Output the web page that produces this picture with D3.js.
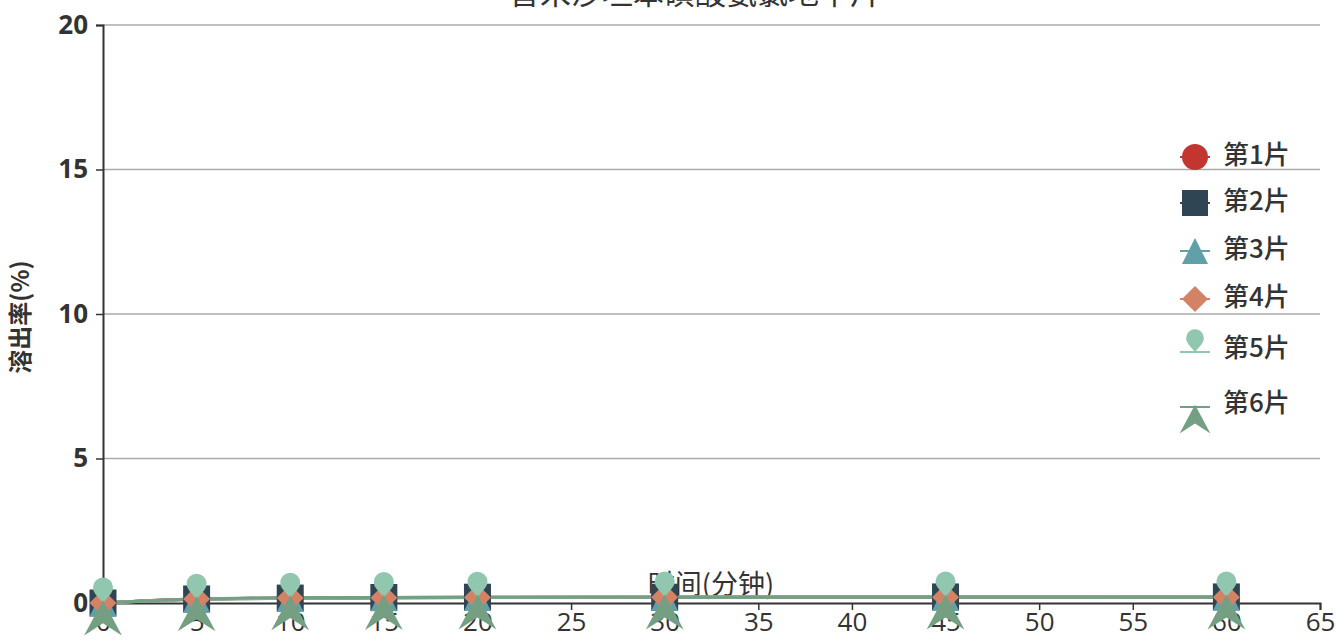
<!DOCTYPE html>
<html>
<head>
<meta charset="utf-8">
<script src="https://cdn.jsdelivr.net/npm/d3@7"></script>
<style>
  body { margin: 0; background: #fff; }
  svg { display: block; font-family: "Noto Sans CJK SC", "Noto Sans", sans-serif; }
</style>
</head>
<body>
<svg width="1336" height="642"></svg>
<script>
const svg = d3.select("svg");

// 資料
const times = [0, 5, 10, 15, 20, 30, 45, 60];
const seriesNames = ["第1片", "第2片", "第3片", "第4片", "第5片", "第6片"];
const s1 = [0, 0.13, 0.17, 0.18, 0.19, 0.2, 0.2, 0.2];
const s2 = [0, 0.14, 0.17, 0.19, 0.2, 0.2, 0.21, 0.21];
const s3 = [0, 0.13, 0.16, 0.18, 0.19, 0.2, 0.2, 0.21];
const s4 = [0, 0.14, 0.17, 0.18, 0.19, 0.2, 0.2, 0.2];
const s5 = [0, 0.13, 0.17, 0.19, 0.2, 0.21, 0.21, 0.21];
const s6 = [0, 0.14, 0.18, 0.19, 0.2, 0.2, 0.2, 0.2];
const xTicks = [0, 5, 10, 15, 20, 25, 30, 35, 40, 45, 50, 55, 60, 65];
const yTicks = [0, 5, 10, 15, 20];
const colors = ["#c23531", "#2f4554", "#61a0a8", "#d48265", "#91c7ae", "#749f83"];
const symbols = ["circle", "rect", "triangle", "diamond", "pin", "arrow"];
const allSeries = [s1, s2, s3, s4, s5, s6];

const x = d3.scaleLinear().domain([0, 65]).range([103, 1320]);
const y = d3.scaleLinear().domain([0, 20]).range([603, 25]);

// 符號路徑 (以資料點為中心)
function symbolPath(type, s) {
  const h = s / 2;
  switch (type) {
    case "circle":
      return `M${-h},0A${h},${h} 0 1,1 ${h},0A${h},${h} 0 1,1 ${-h},0Z`;
    case "rect":
      return `M${-h},${-h}H${h}V${h}H${-h}Z`;
    case "triangle":
      return `M0,${-h}L${h},${h}L${-h},${h}Z`;
    case "diamond":
      return `M0,${-h}L${h},0L0,${h}L${-h},0Z`;
    case "pin": {
      const r = s * 0.37;
      const cy = -s * 0.55;
      return `M0,0L${-r * 0.75},${cy + r * 0.6}A${r},${r} 0 1,1 ${r * 0.75},${cy + r * 0.6}Z`;
    }
    case "arrow": {
      const w = s * 0.7;
      return `M0,${-s * 0.1}L${w},${s * 1.2}L0,${s * 0.75}L${-w},${s * 1.2}Z`;
    }
  }
}

// 格線
svg.append("g")
  .selectAll("line")
  .data(yTicks.filter(d => d > 0))
  .join("line")
  .attr("x1", x(0)).attr("x2", x(65))
  .attr("y1", d => y(d)).attr("y2", d => y(d))
  .attr("stroke", "#aaa")
  .attr("stroke-width", 1.5);

// 標題 (上方被裁切)
svg.append("text")
  .attr("x", 695).attr("y", 4)
  .attr("text-anchor", "middle")
  .attr("font-size", 31)
  .attr("fill", "#333")
  .text("替米沙坦苯磺酸氨氯地平片");

// Y 軸
const yAxis = svg.append("g")
  .attr("transform", `translate(${x(0)},0)`)
  .call(d3.axisLeft(y).tickValues(yTicks).tickSize(7).tickPadding(8));
yAxis.select(".domain").attr("stroke", "#333").attr("stroke-width", 2);
yAxis.selectAll(".tick line").attr("stroke", "#333").attr("stroke-width", 1.5);
yAxis.selectAll(".tick text")
  .attr("font-size", 26).attr("font-weight", "bold").attr("fill", "#333")
  .attr("font-family", "\"Open Sans\", \"Noto Sans\", sans-serif");

// X 軸
const xAxis = svg.append("g")
  .attr("transform", `translate(0,${y(0)})`)
  .call(d3.axisBottom(x).tickValues(xTicks).tickSize(7).tickPadding(3));
xAxis.select(".domain").attr("stroke", "#333").attr("stroke-width", 2);
xAxis.selectAll(".tick line").attr("stroke", "#333").attr("stroke-width", 1.5);
xAxis.selectAll(".tick text")
  .attr("font-size", 26).attr("fill", "#333")
  .attr("font-family", "\"Open Sans\", \"Noto Sans\", sans-serif");

// 軸標題
svg.append("text")
  .attr("x", 711).attr("y", 594)
  .attr("text-anchor", "middle")
  .attr("font-size", 27)
  .attr("fill", "#333")
  .text("时间(分钟)");

svg.append("text")
  .attr("transform", "translate(29,317) rotate(-90)")
  .attr("text-anchor", "middle")
  .attr("font-size", 24)
  .attr("font-weight", "bold")
  .attr("fill", "#333")
  .text("溶出率(%)");

// 折線
const line = d3.line()
  .x((d, i) => x(times[i]))
  .y(d => y(d))
  .curve(d3.curveMonotoneX);

svg.append("g")
  .selectAll("path")
  .data(allSeries)
  .join("path")
  .attr("fill", "none")
  .attr("stroke", (d, i) => colors[i])
  .attr("stroke-width", 3)
  .attr("d", line);

// 資料點
const markerSize = [26, 27, 27, 27, 27, 27];
allSeries.forEach((vals, si) => {
  svg.append("g")
    .selectAll("path")
    .data(vals)
    .join("path")
    .attr("transform", (d, i) => `translate(${x(times[i])},${y(d)})`)
    .attr("d", symbolPath(symbols[si], markerSize[si]))
    .attr("fill", colors[si]);
});

// 圖例
const legendY = [157, 203, 251, 299, 352, 407];
const legend = svg.append("g")
  .selectAll("g")
  .data(seriesNames)
  .join("g")
  .attr("transform", (d, i) => `translate(1195,${legendY[i]})`);

legend.append("line")
  .attr("x1", -15).attr("x2", 15)
  .attr("stroke", (d, i) => colors[i])
  .attr("stroke-width", 2);

legend.append("path")
  .attr("d", (d, i) => {
    if (symbols[i] === "pin") return symbolPath("pin", 24);
    if (symbols[i] === "arrow") return symbolPath("arrow", 22);
    return symbolPath(symbols[i], 26);
  })
  .attr("fill", (d, i) => colors[i]);

legend.append("text")
  .attr("x", 28)
  .attr("y", (d, i) => i >= 4 ? -4 : -2)
  .attr("dy", "0.35em")
  .attr("font-size", 26)
  .attr("font-weight", 500)
  .attr("fill", "#333")
  .text(d => d);
</script>
</body>
</html>
